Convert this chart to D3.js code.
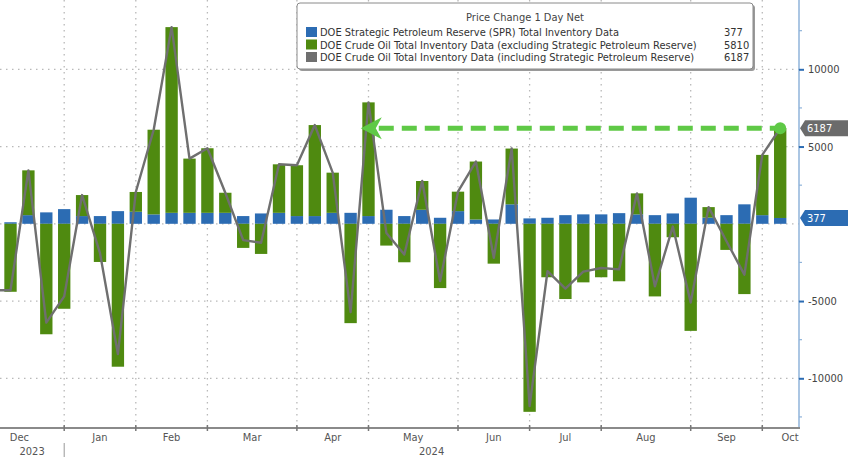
<!DOCTYPE html>
<html>
<head>
<meta charset="utf-8">
<script src="https://cdn.jsdelivr.net/npm/d3@7"></script>
<style>
  html, body { margin: 0; padding: 0; background: #fff; }
  svg { display: block; }
  text { font-family: "DejaVu Sans Condensed", "Liberation Sans", Arial, sans-serif; }
</style>
</head>
<body>
<svg id="chart" width="848" height="457"></svg>
<script>
// ---- Data (weekly, week-ending Fridays; first entry sits just left of the visible area) ----
const weeks = [
  "2023-12-08","2023-12-15","2023-12-22","2023-12-29",
  "2024-01-05","2024-01-12","2024-01-19","2024-01-26",
  "2024-02-02","2024-02-09","2024-02-16","2024-02-23",
  "2024-03-01","2024-03-08","2024-03-15","2024-03-22","2024-03-29",
  "2024-04-05","2024-04-12","2024-04-19","2024-04-26",
  "2024-05-03","2024-05-10","2024-05-17","2024-05-24","2024-05-31",
  "2024-06-07","2024-06-14","2024-06-21","2024-06-28",
  "2024-07-05","2024-07-12","2024-07-19","2024-07-26",
  "2024-08-02","2024-08-09","2024-08-16","2024-08-23","2024-08-30",
  "2024-09-06","2024-09-13","2024-09-20","2024-09-27",
  "2024-10-04","2024-10-11"
];
// DOE Strategic Petroleum Reserve (SPR) weekly change
const sprChange = [100, 100, 560, 740, 950, 500, 500, 820, 780, 610, 710, 710, 710, 710, 500, 670, 710, 500, 500, 710, 710, 500, 910, 500, 910, 390, 820, 280, 280, 1260, 350, 390, 560, 610, 610, 690, 610, 560, 670, 1690, 400, 560, 1260, 560, 377];
// DOE Crude Oil total inventory change excluding SPR
const crudeExSpr = [-4400, -4400, 2900, -7150, -5500, 1360, -2470, -9250, 1280, 5480, 12020, 3510, 4180, 1300, -1560, -1950, 3140, 3290, 5890, 2600, -6430, 7360, -1410, -2490, 1860, -4160, 1260, 3750, -2580, 3610, -12170, -3460, -4870, -3790, -3460, -3720, 1360, -4700, -870, -6930, 680, -1690, -4550, 3900, 5810];
// DOE Crude Oil total inventory change including SPR
const crudeInclSpr = [-4300, -4300, 3460, -6400, -4700, 1860, -1900, -8430, 2060, 6090, 12730, 4220, 4890, 2010, -1060, -1230, 3850, 3790, 6390, 3310, -5720, 7860, -600, -1990, 2770, -3700, 2080, 4030, -2200, 4870, -11800, -3070, -4200, -3100, -2860, -2950, 1970, -4050, -180, -5100, 1080, -1130, -3290, 4460, 6187];

const legendTitle = "Price Change 1 Day Net";
const seriesNames = [
  "DOE Strategic Petroleum Reserve (SPR) Total Inventory Data",
  "DOE Crude Oil Total Inventory Data (excluding Strategic Petroleum Reserve)",
  "DOE Crude Oil Total Inventory Data (including Strategic Petroleum Reserve)"
];
const lastValues = ["377", "5810", "6187"];
const yMajorTicks = [-10000, -5000, 0, 5000, 10000];
const yMinorTicks = [-12500, -7500, -2500, 2500, 7500, 12500];
const arrowFromWeek = "2024-04-26";   // annotation points back to this build

// ---- Styles ----
const C_GREEN = "#4f8a10", C_BLUE = "#2c6cb3", C_GRAY = "#6f6f6f", C_ANNO = "#5fc946";

const parse = d3.timeParse("%Y-%m-%d");
const data = weeks.map((w, i) => ({
  date: parse(w), spr: sprChange[i], crude: crudeExSpr[i], total: crudeInclSpr[i]
}));

const svg = d3.select("#chart");
const plotRight = 799, plotBottom = 428;

const x = d3.scaleTime()
  .domain([parse("2023-12-15"), parse("2024-10-11")])
  .range([10.5, 780.2]);
const step = x(parse("2024-01-12")) - x(parse("2024-01-05"));
const barW = step * 0.69;
const y = d3.scaleLinear().domain([-10000, 10000]).range([378.3, 69.3]);

svg.append("defs").append("clipPath").attr("id", "plotclip")
  .append("rect").attr("x", 0).attr("y", 0).attr("width", plotRight).attr("height", plotBottom);

// month starts (first Friday of each month)
const months = d3.timeMonth.range(parse("2023-12-01"), parse("2024-11-01"));
const monthStarts = months.map(m => d3.timeFriday.ceil(m));
const tickStarts = monthStarts.filter(d => x(d) > 0 && x(d) < plotRight);

// ---- Gridlines ----
const grid = svg.append("g").attr("stroke", "#b9b9b9").attr("stroke-width", 1.3)
  .attr("stroke-dasharray", "1.5,4.5");
grid.selectAll("line.h").data(yMajorTicks).join("line")
  .attr("x1", 0).attr("x2", plotRight).attr("y1", d => y(d)).attr("y2", d => y(d));
grid.selectAll("line.v").data(tickStarts).join("line")
  .attr("x1", d => x(d)).attr("x2", d => x(d)).attr("y1", 0).attr("y2", plotBottom);

// ---- Bars ----
const plot = svg.append("g").attr("clip-path", "url(#plotclip)");
plot.selectAll("rect.spr").data(data).join("rect")
  .attr("x", d => x(d.date) - barW / 2).attr("width", barW)
  .attr("y", d => y(Math.max(0, d.spr))).attr("height", d => Math.abs(y(d.spr) - y(0)))
  .attr("fill", C_BLUE);
plot.selectAll("rect.crude").data(data).join("rect")
  .attr("x", d => x(d.date) - barW / 2).attr("width", barW)
  .attr("y", d => d.crude >= 0 ? y(d.spr + d.crude) : y(0))
  .attr("height", d => d.crude >= 0 ? y(d.spr) - y(d.spr + d.crude) : y(d.crude) - y(0))
  .attr("fill", C_GREEN);

// ---- Total line ----
plot.append("path").datum(data)
  .attr("fill", "none").attr("stroke", C_GRAY).attr("stroke-width", 2.4)
  .attr("stroke-linejoin", "round")
  .attr("d", d3.line().x(d => x(d.date)).y(d => y(d.total)));

// ---- Annotation arrow ----
const last = data[data.length - 1];
const ay = y(last.total);
const tipX = x(parse(arrowFromWeek)) + barW / 2 + 4;
svg.append("line")
  .attr("x1", tipX + 18).attr("x2", x(last.date)).attr("y1", ay).attr("y2", ay)
  .attr("stroke", C_ANNO).attr("stroke-width", 5).attr("stroke-dasharray", "15,8");
svg.append("path")
  .attr("d", `M${tipX},${ay} L${tipX + 21},${ay - 11} L${tipX + 15},${ay} L${tipX + 21},${ay + 11} Z`)
  .attr("fill", C_ANNO);
svg.append("circle").attr("cx", x(last.date)).attr("cy", ay).attr("r", 6).attr("fill", C_ANNO);

// ---- Right axis ----
svg.append("line").attr("x1", plotRight).attr("x2", plotRight).attr("y1", 0).attr("y2", plotBottom)
  .attr("stroke", "#8fb3da").attr("stroke-width", 1.5);
const yAxis = svg.append("g").attr("transform", `translate(${plotRight},0)`)
  .call(d3.axisRight(y).tickValues(yMajorTicks.filter(v => v !== 0)).tickSize(5).tickPadding(4)
    .tickFormat(d => d < 0 ? "-" + Math.abs(d) : d));
yAxis.select(".domain").remove();
yAxis.selectAll(".tick line").attr("stroke", "#2c6cb3").attr("stroke-width", 2);
yAxis.selectAll(".tick text").attr("fill", "#444").attr("font-size", 11);
svg.append("g").selectAll("line").data(yMinorTicks).join("line")
  .attr("x1", plotRight).attr("x2", plotRight + 3).attr("y1", d => y(d)).attr("y2", d => y(d))
  .attr("stroke", "#8fb3da").attr("stroke-width", 1.2);

// value tags on right axis
function tag(val, label, fill) {
  const cy = y(val);
  const g = svg.append("g");
  g.append("path")
    .attr("d", `M${plotRight + 1},${cy} L${plotRight + 6},${cy - 8} L848,${cy - 8} L848,${cy + 8} L${plotRight + 6},${cy + 8} Z`)
    .attr("fill", fill);
  g.append("text").attr("x", plotRight + 8).attr("y", cy + 4).attr("fill", "#fff")
    .attr("font-size", 11).text(label);
}
tag(+lastValues[2], lastValues[2], "#6b6b6b");
tag(+lastValues[0], lastValues[0], "#2c6cb3");

// ---- Bottom axis ----
svg.append("line").attr("x1", 0).attr("x2", plotRight + 1).attr("y1", plotBottom).attr("y2", plotBottom)
  .attr("stroke", "#8a8a8a").attr("stroke-width", 2);
svg.append("g").selectAll("line").data(tickStarts).join("line")
  .attr("x1", d => x(d)).attr("x2", d => x(d)).attr("y1", plotBottom - 3).attr("y2", plotBottom + 3)
  .attr("stroke", "#777").attr("stroke-width", 1.5);

const fmtMonth = d3.timeFormat("%b");
const monthLabels = monthStarts.map((d, i) => {
  const next = i + 1 < monthStarts.length ? monthStarts[i + 1] : d3.timeFriday.ceil(d3.timeMonth.offset(months[i], 1));
  let cx = (x(d) + x(next)) / 2;
  cx = Math.min(cx, plotRight - 9);
  return { label: fmtMonth(months[i]), cx };
});
svg.append("g").selectAll("text").data(monthLabels).join("text")
  .attr("x", d => d.cx).attr("y", 441).attr("text-anchor", "middle")
  .attr("font-size", 11).attr("fill", "#555").text(d => d.label);

// years
const yearSplit = x(d3.timeFriday.ceil(parse("2024-01-01")));
svg.append("line").attr("x1", yearSplit).attr("x2", yearSplit).attr("y1", 443).attr("y2", 457)
  .attr("stroke", "#999").attr("stroke-width", 1);
svg.append("text").attr("x", yearSplit / 2).attr("y", 455).attr("text-anchor", "middle")
  .attr("font-size", 11).attr("fill", "#555").text("2023");
svg.append("text").attr("x", (yearSplit + plotRight) / 2).attr("y", 455).attr("text-anchor", "middle")
  .attr("font-size", 11).attr("fill", "#555").text("2024");

// ---- Legend ----
const lg = svg.append("g");
const lx = 297, ly = 3, lw = 456, lh = 66;
lg.append("rect").attr("x", lx + 2).attr("y", ly + 2).attr("width", lw).attr("height", lh)
  .attr("rx", 3).attr("fill", "#9a9a9a");
lg.append("rect").attr("x", lx).attr("y", ly).attr("width", lw).attr("height", lh)
  .attr("rx", 3).attr("fill", "#fff").attr("stroke", "#8a8a8a").attr("stroke-width", 1);
lg.append("text").attr("x", lx + lw / 2).attr("y", 21).attr("text-anchor", "middle")
  .attr("font-size", 11).attr("fill", "#444").text(legendTitle);
const swatch = [C_BLUE, C_GREEN, C_GRAY];
seriesNames.forEach((name, i) => {
  const ry = 32 + i * 12.5;
  lg.append("rect").attr("x", 306).attr("y", ry - 5).attr("width", 11).attr("height", 10).attr("fill", swatch[i]);
  lg.append("text").attr("x", 320).attr("y", ry + 4).attr("font-size", 11).attr("fill", "#333").text(name);
  lg.append("text").attr("x", 724).attr("y", ry + 4).attr("font-size", 11).attr("fill", "#333").text(lastValues[i]);
});
</script>
</body>
</html>
